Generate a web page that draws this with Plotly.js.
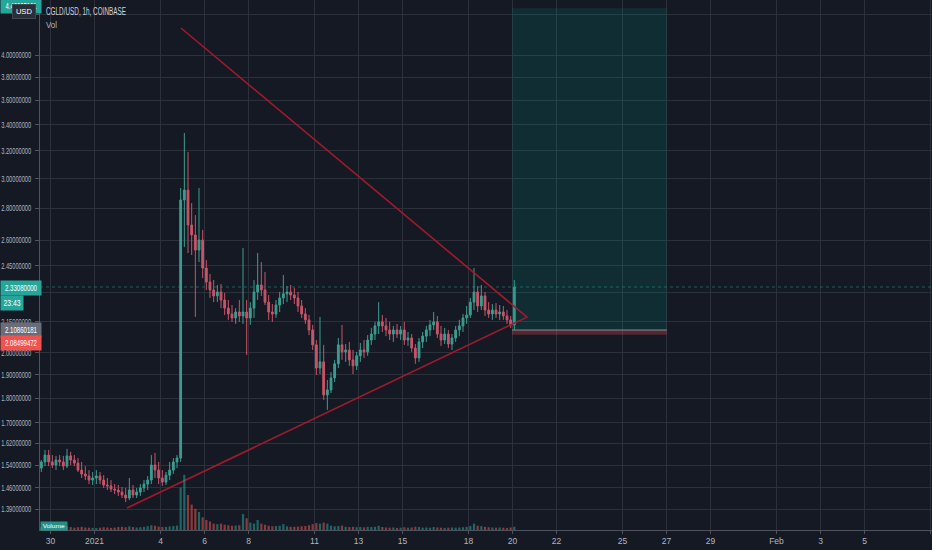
<!DOCTYPE html>
<html>
<head>
<meta charset="utf-8">
<script src="https://cdn.plot.ly/plotly-3.0.1.min.js"></script>
<style>
html,body{margin:0;padding:0;background:#151924;}
#chart{width:932px;height:550px;}
</style>
</head>
<body>
<div id="chart"></div>
<script>
// ---- DATA (CGLD/USD, aggregated to 4h candles) ----
const candleStartUTC = Date.UTC(2020, 11, 29, 14, 0); // centre of first 4h candle
const candleStepHours = 4;

const open = [1.529,1.551,1.576,1.551,1.540,1.558,1.551,1.536,1.573,1.558,
1.547,1.522,1.508,1.501,1.487,1.494,1.501,1.487,1.470,1.467,
1.456,1.453,1.446,1.436,1.426,1.453,1.436,1.446,1.460,1.473,
1.487,1.540,1.522,1.494,1.480,1.504,1.522,1.551,1.565,2.854,
2.921,2.693,2.631,2.540,2.600,2.436,2.358,2.315,2.283,2.304,
2.261,2.219,2.189,2.169,2.199,2.179,2.199,2.169,2.219,2.304,
2.342,2.315,2.250,2.199,2.189,2.235,2.272,2.294,2.304,2.288,
2.272,2.230,2.189,2.159,2.109,2.037,1.930,1.958,1.813,1.834,
1.886,1.949,2.037,2.004,2.013,1.967,1.940,1.986,2.013,2.004,
2.060,2.089,2.129,2.149,2.129,2.109,2.089,2.109,2.089,2.109,
2.060,2.070,2.022,1.976,2.051,2.079,2.109,2.134,2.149,2.089,
2.060,2.089,2.041,2.070,2.109,2.129,2.169,2.184,2.250,2.304,
2.230,2.283,2.209,2.189,2.209,2.189,2.199,2.179,2.159,2.134];

const high = [1.558,1.595,1.595,1.576,1.573,1.576,1.573,1.599,1.588,1.576,
1.565,1.551,1.536,1.522,1.515,1.522,1.515,1.504,1.494,1.487,
1.473,1.470,1.463,1.460,1.494,1.470,1.460,1.473,1.487,1.501,
1.576,1.584,1.551,1.522,1.515,1.551,1.565,1.576,2.935,3.336,
3.191,2.834,2.756,2.935,2.662,2.482,2.403,2.369,2.342,2.347,
2.299,2.261,2.235,2.219,2.261,2.552,2.261,2.250,2.369,2.523,
2.470,2.414,2.288,2.240,2.261,2.304,2.397,2.336,2.342,2.326,
2.304,2.261,2.219,2.184,2.134,2.060,2.174,2.037,1.877,1.912,
1.967,2.070,2.134,2.041,2.051,2.013,2.004,2.046,2.060,2.084,
2.119,2.149,2.250,2.184,2.169,2.149,2.129,2.139,2.129,2.149,
2.099,2.089,2.041,2.070,2.099,2.129,2.159,2.199,2.179,2.129,
2.119,2.109,2.089,2.129,2.159,2.189,2.230,2.272,2.436,2.336,
2.342,2.304,2.250,2.240,2.245,2.235,2.230,2.209,2.179,2.369];

const low = [1.515,1.536,1.536,1.529,1.522,1.536,1.522,1.529,1.540,1.536,
1.515,1.494,1.487,1.473,1.470,1.473,1.473,1.460,1.453,1.446,
1.439,1.433,1.426,1.413,1.419,1.426,1.426,1.433,1.446,1.453,
1.473,1.494,1.473,1.467,1.470,1.487,1.508,1.529,1.551,2.558,
2.523,2.511,2.174,2.470,2.380,2.315,2.272,2.250,2.250,2.219,
2.184,2.159,2.149,2.139,2.149,2.139,1.990,2.134,2.169,2.261,
2.283,2.235,2.159,2.149,2.169,2.199,2.240,2.250,2.261,2.240,
2.199,2.169,2.139,2.084,2.013,1.899,1.903,1.792,1.751,1.821,
1.868,1.930,1.967,1.958,1.940,1.903,1.921,1.958,1.976,1.986,
2.037,2.060,2.089,2.099,2.079,2.060,2.051,2.070,2.060,2.037,
2.032,2.004,1.949,1.958,2.022,2.051,2.079,2.109,2.070,2.032,
2.041,2.022,2.013,2.051,2.079,2.099,2.139,2.169,2.209,2.199,
2.209,2.179,2.169,2.159,2.169,2.159,2.159,2.139,2.119,2.109];

const close = [1.551,1.576,1.551,1.540,1.558,1.551,1.536,1.573,1.558,1.547,
1.522,1.508,1.501,1.487,1.494,1.501,1.487,1.470,1.467,1.456,
1.453,1.446,1.436,1.426,1.453,1.436,1.446,1.460,1.473,1.487,
1.540,1.522,1.494,1.480,1.504,1.522,1.551,1.565,2.854,2.921,
2.693,2.631,2.540,2.600,2.436,2.358,2.315,2.283,2.304,2.261,
2.219,2.189,2.169,2.199,2.179,2.199,2.169,2.219,2.304,2.342,
2.315,2.250,2.199,2.189,2.235,2.272,2.294,2.304,2.288,2.272,
2.230,2.189,2.159,2.109,2.037,1.930,1.958,1.813,1.834,1.886,
1.949,2.037,2.004,2.013,1.967,1.940,1.986,2.013,2.004,2.060,
2.089,2.129,2.149,2.129,2.109,2.089,2.109,2.089,2.109,2.060,
2.070,2.022,1.976,2.051,2.079,2.109,2.134,2.149,2.089,2.060,
2.089,2.041,2.070,2.109,2.129,2.169,2.184,2.250,2.304,2.230,
2.283,2.209,2.189,2.209,2.189,2.199,2.179,2.159,2.134,2.3308];

const volume = [25,30,28,22,26,30,24,35,28,22,
26,30,24,22,20,18,22,26,24,20,
22,28,30,26,34,28,24,26,30,36,
45,40,32,28,30,34,38,42,400,520,
330,240,200,170,120,95,80,60,55,60,
50,45,40,42,45,150,110,70,60,95,
60,50,40,35,38,40,55,35,30,30,
32,35,38,45,55,65,60,70,60,40,
35,38,42,30,28,30,26,28,25,30,
28,30,40,28,24,22,24,20,22,26,
22,24,30,28,22,24,22,28,24,22,
20,22,24,22,24,26,30,38,60,40,
36,30,26,24,22,24,22,20,24,30];

// Drawings (triangle and long position tool)
const triangleDates  = ['2021-01-02 11:27', '2021-01-20 00:30', '2021-01-20 15:50', '2021-01-04 22:20'];
const trianglePrices = [1.393, 2.141, 2.173, 4.26];
const positionDates  = ['2021-01-19 23:30', '2021-01-27 00:20'];
const targetPrice = 4.46005121;
const entryPrice  = 2.10860181;
const stopPrice   = 2.08499472;
const countdown   = '23:43';

// Axis ticks (2.30 and 4.40 grid lines are hidden behind price labels in the reference)
const xTickVals = ['2020-12-30','2021-01-01','2021-01-04','2021-01-06','2021-01-08','2021-01-11','2021-01-13','2021-01-15','2021-01-18','2021-01-20','2021-01-22','2021-01-25','2021-01-27','2021-01-29','2021-02-01','2021-02-03','2021-02-05','2021-02-08'];
const xTickText = ['30','2021','4','6','8','11','13','15','18','20','22','25','27','29','Feb','3','5','8'];
const yTickVals = [1.39,1.46,1.54,1.62,1.70,1.80,1.90,2.00,2.15,2.30,2.45,2.60,2.80,3.00,3.20,3.40,3.60,3.80,4.00,4.40];
const yTickHidden = [2.30, 4.40];
const xRange = ['2020-12-29 12:33', '2021-02-08 01:38'];
const yRange = [1.3237, 4.547];

// ---- BUILD ----
const times = open.map((_, i) => candleStartUTC + i * candleStepHours * 3600000);
const UP = '#3a9e90', DOWN = '#c95468';
const sans = "'Liberation Sans','Arial',sans-serif";
const axisFont = {family: sans, size: 9, color: '#b2b5be'};

const volTrace = {
  type: 'bar', x: times, y: volume, yaxis: 'y2',
  width: candleStepHours * 3600000 * 0.6,
  marker: {color: close.map((c, i) => c >= open[i] ? 'rgba(38,166,154,0.55)' : 'rgba(239,83,80,0.55)'), line: {width: 0}},
  hoverinfo: 'skip'
};

const x0 = positionDates[0], x1 = positionDates[1];
const targetBox = {
  type: 'scatter', mode: 'lines', x: [x0, x1, x1, x0, x0],
  y: [entryPrice, entryPrice, targetPrice, targetPrice, entryPrice],
  fill: 'toself', fillcolor: 'rgba(0,150,136,0.17)', line: {width: 0}, hoverinfo: 'skip'
};
const stopBox = {
  type: 'scatter', mode: 'lines', x: [x0, x1, x1, x0, x0],
  y: [stopPrice, stopPrice, entryPrice, entryPrice, stopPrice],
  fill: 'toself', fillcolor: 'rgba(239,83,80,0.28)', line: {width: 0}, hoverinfo: 'skip'
};
const entryLine = {
  type: 'scatter', mode: 'lines', x: [x0, x1], y: [entryPrice, entryPrice],
  line: {color: '#8a8d96', width: 1}, hoverinfo: 'skip'
};
const lastClose = close[close.length - 1];
const priceLine = {
  type: 'scatter', mode: 'lines', x: xRange, y: [lastClose, lastClose],
  line: {color: 'rgba(38,166,154,0.5)', width: 1, dash: 'dot'}, hoverinfo: 'skip'
};

const candles = {
  type: 'candlestick', x: times, open: open, high: high, low: low, close: close,
  increasing: {line: {color: UP, width: 1}, fillcolor: UP},
  decreasing: {line: {color: DOWN, width: 1}, fillcolor: DOWN},
  whiskerwidth: 0, hoverinfo: 'skip'
};

const triangle = {
  type: 'scatter', mode: 'lines', x: triangleDates, y: trianglePrices,
  line: {color: '#a01a2d', width: 1.6}, hoverinfo: 'skip'
};

// pixel helpers for label placement in the left price scale
const plotH = 530, plotW = 892, L = 40;
const px = v => (v - L) / plotW;
const py = v => 1 - v / plotH;

function scaleLabel(text, yPix, bg, boxW) {
  return {
    xref: 'paper', yref: 'paper', x: px(0), y: py(yPix),
    xanchor: 'left', yanchor: 'middle', text: text, showarrow: false,
    bgcolor: bg, borderpad: 2, width: boxW || 36,
    font: {family: sans, size: 9, color: '#ffffff'}
  };
}
function plainText(text, xPix, yPix, size, color) {
  return {
    xref: 'paper', yref: 'paper', x: px(xPix), y: py(yPix), xanchor: 'left', yanchor: 'middle',
    align: 'left', text: text, showarrow: false, font: {family: sans, size: size, color: color}
  };
}

const annotations = [
  scaleLabel(targetPrice.toFixed(8), 6, '#26a69a'),
  {xref: 'paper', yref: 'paper', x: px(24), y: py(12), xanchor: 'center', yanchor: 'middle',
   text: 'USD', showarrow: false, bgcolor: '#2a2e39', bordercolor: '#434651', borderwidth: 1, borderpad: 2, width: 18,
   font: {family: sans, size: 8, color: '#ffffff'}},
  plainText('CGLD/USD, 1h, COINBASE', 44, 12, 10, '#d1d4dc'),
  plainText('Vol', 44, 25, 9.5, '#b2b5be'),
  scaleLabel(lastClose.toFixed(8), 288, '#26a69a'),
  scaleLabel(countdown, 303, '#26a69a', 18),
  scaleLabel(entryPrice.toFixed(8), 330, '#6a6d78'),
  scaleLabel(stopPrice.toFixed(8), 343, '#ef5350'),
  {xref: 'paper', yref: 'paper', x: px(40), y: py(526), xanchor: 'left', yanchor: 'middle',
   text: 'Volume', showarrow: false, bgcolor: 'rgba(38,166,154,0.85)', borderpad: 1, width: 24,
   font: {family: sans, size: 6, color: '#ffffff'}}
];
// widths (px) each text is fitted to, matching the reference's condensed font
const annotationTextWidths = [31, 16, 80, 11, 32, 17, 32, 32, 22];

const layout = {
  width: 932, height: 550,
  margin: {l: 40, r: 0, t: 0, b: 20},
  paper_bgcolor: '#151924', plot_bgcolor: '#151924',
  showlegend: false, dragmode: false,
  xaxis: {
    type: 'date', range: xRange, rangeslider: {visible: false},
    tickmode: 'array', tickvals: xTickVals, ticktext: xTickText, tickfont: {family: sans, size: 8.5, color: '#b2b5be'},
    gridcolor: '#2c303b', gridwidth: 1, showline: true, linecolor: '#50535e', linewidth: 1,
    ticks: 'outside', ticklen: 3, tickcolor: '#50535e', zeroline: false, fixedrange: true
  },
  yaxis: {
    type: 'log', range: [Math.log10(yRange[0]), Math.log10(yRange[1])], side: 'left',
    tickmode: 'array', tickvals: yTickVals,
    ticktext: yTickVals.map(v => yTickHidden.includes(v) ? '' : v.toFixed(8)), tickfont: axisFont,
    gridcolor: '#2c303b', gridwidth: 1, showline: true, linecolor: '#50535e', linewidth: 1,
    ticks: 'outside', ticklen: 4, tickcolor: '#50535e', ticklabelstandoff: 2, zeroline: false, fixedrange: true
  },
  yaxis2: {overlaying: 'y', range: [0, 5000], visible: false, fixedrange: true},
  annotations: annotations
};

function fitText(el, w) {
  el.setAttribute('textLength', w);
  el.setAttribute('lengthAdjust', 'spacingAndGlyphs');
}

Plotly.newPlot('chart', [targetBox, stopBox, entryLine, priceLine, candles, triangle, volTrace], layout,
  {displayModeBar: false, staticPlot: true}).then(gd => {
  gd.querySelectorAll('.ytick text').forEach(t => { if (t.textContent) fitText(t, 30); });
  gd.querySelectorAll('g.annotation').forEach(g => {
    const i = +g.getAttribute('data-index');
    const t = g.querySelector('text');
    if (t && annotationTextWidths[i]) fitText(t, annotationTextWidths[i]);
  });
});
</script>
</body>
</html>
